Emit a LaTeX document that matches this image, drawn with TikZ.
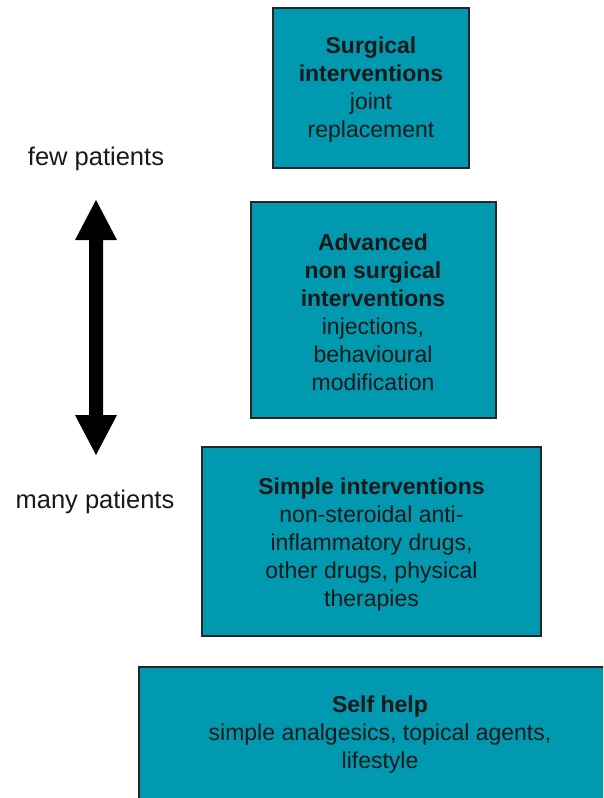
\documentclass[tikz,border=0pt]{standalone}
\usepackage{fontspec}
\setmainfont{Liberation Sans}
\definecolor{teal1}{HTML}{0099AF}
\begin{document}
\begin{tikzpicture}[x=1pt,y=-1pt,
  box/.style={draw=black!85,line width=2pt,fill=teal1},
  txt/.style={align=center,font=\fontsize{23}{28}\selectfont,text=black!90,inner sep=0pt},
  side/.style={font=\fontsize{25.5}{30}\selectfont,text=black!90,inner sep=0pt}]
\useasboundingbox (0,0) rectangle (603,798);
\fill[white] (0,0) rectangle (603,798);
\begin{scope}
\clip (0,0) rectangle (603,798);
\draw[box] (273,8) rectangle (469,168);
\draw[box] (251,202) rectangle (496,418);
\draw[box] (202,447) rectangle (541,636);
\draw[box] (139,667) rectangle (620,815);
\end{scope}
\node[txt] (t1) at (371,90) {\textbf{Surgical}\\\textbf{interventions}\\joint\\replacement};
\node[txt] (t2) at (373,312) {\textbf{Advanced}\\\textbf{non surgical}\\\textbf{interventions}\\injections,\\behavioural\\modification};
\node[txt] (t3) at (371.5,545) {\textbf{Simple interventions}\\non-steroidal anti-\\inflammatory drugs,\\ other drugs, physical\\therapies};
\node[txt] (t4) at (380,735) {\textbf{Self help}\\simple analgesics, topical agents,\\lifestyle};
\node[side] (few) at (96,159) {few patients};
\node[side] (many) at (95,502) {many patients};
\fill[black] (96,200) -- (117,240) -- (103,240) -- (103,415) -- (117,415) -- (96,455)
  -- (75,415) -- (89,415) -- (89,240) -- (75,240) -- cycle;
\end{tikzpicture}
\end{document}
